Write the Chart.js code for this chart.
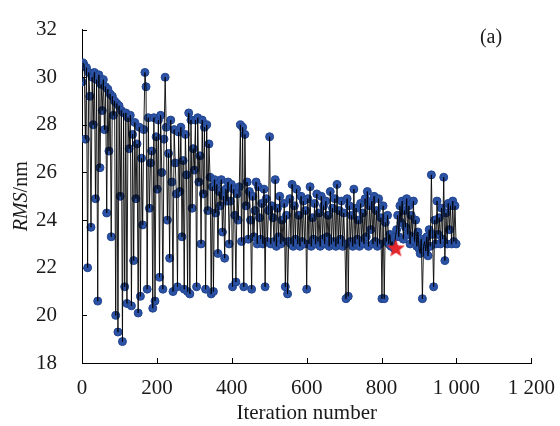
<!DOCTYPE html>
<html>
<head>
<meta charset="utf-8">
<script src="https://cdn.jsdelivr.net/npm/chart.js@4.4.1/dist/chart.umd.min.js"></script>
<style>
  html, body { margin: 0; padding: 0; background: #fff; }
  #wrap { width: 560px; height: 426px; }
</style>
</head>
<body>
<div id="wrap"><canvas id="rmsChart" width="560" height="426"></canvas></div>
<script>
// RMS, one value every 3 iterations (0, 3, 6 ... 999)
const iterStep = 3;
const rmsValues = [
    29.8, 30.6, 30.5, 27.4, 30.4, 22.0, 30.2, 29.2, 23.7, 30.0,
    28.0, 30.2, 24.9, 29.9, 20.6, 30.1, 26.2, 29.7, 28.6, 29.9,
    27.8, 29.6, 24.3, 29.5, 26.9, 29.3, 23.3, 29.2, 28.4, 29.0,
    20.0, 28.9, 19.3, 28.8, 25.0, 28.6, 18.9, 28.5, 21.2, 28.5,
    20.5, 28.3, 27.0, 28.4, 20.4, 27.6, 22.3, 28.1, 24.9, 27.2,
    20.1, 27.9, 20.8, 26.6, 23.8, 27.8, 30.2, 29.6, 21.1, 28.3,
    24.5, 26.4, 26.9, 20.3, 28.3, 20.6, 27.5, 25.3, 28.2, 21.6,
    28.4, 26.0, 21.1, 27.4, 30.0, 27.9, 24.0, 26.8, 22.4, 28.2,
    25.6, 21.0, 27.8, 26.4, 25.1, 21.2, 27.7, 25.2, 27.9, 23.3,
    26.5, 21.1, 27.6, 25.9, 21.0, 28.5, 20.9, 28.2, 24.5, 27.0,
    26.1, 28.2, 21.2, 28.3, 25.6, 26.7, 23.0, 28.2, 25.1, 27.9,
    21.1, 28.0, 24.4, 27.2, 25.8, 20.9, 25.4, 21.0, 25.7, 24.3,
    25.5, 22.6, 25.2, 24.6, 25.7, 23.5, 25.0, 22.4, 25.3, 24.8,
    25.6, 23.0, 24.8, 25.5, 21.2, 25.3, 24.2, 21.4, 25.1, 24.0,
    25.4, 28.0, 23.1, 27.9, 21.2, 27.6, 24.6, 25.6, 23.2, 25.2,
    24.0, 21.1, 25.0, 23.3, 24.4, 25.6, 23.0, 25.4, 24.1, 23.2,
    24.7, 23.0, 25.3, 21.2, 24.9, 23.1, 24.4, 27.5, 23.0, 24.6,
    24.1, 23.1, 25.7, 22.9, 24.5, 23.3, 25.0, 23.0, 24.0, 23.1,
    24.7, 21.2, 24.2, 20.9, 23.1, 24.9, 23.0, 25.5, 22.9, 24.6,
    23.2, 25.3, 23.0, 24.2, 22.9, 25.0, 23.1, 24.8, 23.0, 24.4,
    21.1, 24.9, 23.0, 25.4, 22.9, 24.1, 23.2, 24.7, 23.0, 25.1,
    23.1, 24.3, 22.9, 25.0, 23.2, 24.6, 23.0, 24.8, 23.3, 24.2,
    22.9, 25.2, 23.0, 24.5, 23.1, 24.9, 22.9, 25.5, 23.0, 24.4,
    23.2, 24.8, 22.9, 24.3, 23.0, 20.7, 24.9, 20.8, 24.6, 23.1,
    24.2, 22.9, 25.3, 23.0, 24.5, 23.2, 24.0, 22.9, 24.7, 23.1,
    24.3, 23.0, 24.9, 23.3, 25.2, 22.9, 24.6, 23.6, 24.8, 23.0,
    25.0, 23.1, 24.4, 22.9, 24.9, 23.0, 24.1, 20.7, 24.6, 20.7,
    23.9, 23.1, 24.2, 23.0, 23.4, 22.9, 23.1, 22.9, 22.8, 23.3,
    23.6, 24.2, 23.3, 24.6, 23.9, 24.8, 23.2, 24.4, 23.7, 24.9,
    23.4, 24.6, 23.0, 24.2, 23.3, 24.8, 23.1, 24.0, 22.9, 23.5,
    22.8, 22.6, 23.2, 20.7, 22.9, 23.1, 22.7, 23.3, 22.5, 23.6,
    22.9, 25.9, 23.4, 21.2, 24.0, 23.0, 24.8, 23.4, 24.1, 23.0,
    24.5, 23.2, 25.8, 22.3, 24.3, 23.0, 24.7, 23.6, 24.6, 23.0,
    24.8, 23.1, 24.6, 23.0
];
// best result, marked with the red star
const bestIter = [838];
const bestRms = [22.8];

const xTicks = [0, 200, 400, 600, 800, 1000, 1200];
const yTicks = [18, 20, 22, 24, 26, 28, 30, 32];

const serif = '"Liberation Serif", "Times New Roman", serif';
const textColor = '#1a1a1a';
const fontSize = 21;

const points = rmsValues.map((v, i) => ({ x: i * iterStep, y: v }));
const best = bestIter.map((x, i) => ({ x: x, y: bestRms[i] }));

function makeStar(size, color) {
    const c = document.createElement('canvas');
    c.width = size;
    c.height = size;
    const g = c.getContext('2d');
    const r = size / 2, ri = r * 0.42;
    g.beginPath();
    for (let i = 0; i < 10; i++) {
        const a = -Math.PI / 2 + i * Math.PI / 5;
        const rr = i % 2 ? ri : r;
        g.lineTo(r + rr * Math.cos(a), r + rr * Math.sin(a));
    }
    g.closePath();
    g.fillStyle = color;
    g.fill();
    return c;
}

function fmtThousands(v) {
    return String(v).replace(/\B(?=(\d{3})+(?!\d))/g, ' ');
}

// inward tick marks, y axis title with italic RMS, panel tag
const decorations = {
    id: 'decorations',
    beforeDatasetsDraw(chart) {
        const ctx = chart.ctx;
        const xs = chart.scales.x, ys = chart.scales.y;
        const area = chart.chartArea;
        ctx.save();
        ctx.strokeStyle = '#000';
        ctx.lineWidth = 1;
        ctx.beginPath();
        xTicks.forEach(t => {
            const px = Math.round(xs.getPixelForValue(t)) + 0.5;
            ctx.moveTo(px, area.bottom);
            ctx.lineTo(px, area.bottom - 5);
        });
        yTicks.forEach(t => {
            const py = Math.round(ys.getPixelForValue(t)) + 0.5;
            ctx.moveTo(area.left, py);
            ctx.lineTo(area.left + 5, py);
        });
        ctx.stroke();
        ctx.restore();
    },
    afterDraw(chart) {
        const ctx = chart.ctx;
        const area = chart.chartArea;
        ctx.save();
        ctx.fillStyle = textColor;
        ctx.textBaseline = 'middle';
        ctx.translate(22, (area.top + area.bottom) / 2);
        ctx.rotate(-Math.PI / 2);
        const italic = 'italic 20px ' + serif;
        const normal = '20px ' + serif;
        ctx.font = italic;
        const w1 = ctx.measureText('RMS').width;
        ctx.font = normal;
        const w2 = ctx.measureText('/nm').width;
        const x0 = -(w1 + w2) / 2;
        ctx.textAlign = 'left';
        ctx.font = italic;
        ctx.fillText('RMS', x0, 0);
        ctx.font = normal;
        ctx.fillText('/nm', x0 + w1, 0);
        ctx.restore();

        ctx.save();
        ctx.fillStyle = textColor;
        ctx.font = '20px ' + serif;
        ctx.textAlign = 'center';
        ctx.textBaseline = 'middle';
        ctx.fillText('(a)', 491, 38);
        ctx.restore();
    }
};

const chart = new Chart(document.getElementById('rmsChart').getContext('2d'), {
    type: 'scatter',
    data: {
        datasets: [
            {
                label: 'best',
                data: best,
                pointStyle: makeStar(19, '#e5262b'),
                pointRadius: 9,
                showLine: false
            },
            {
                label: 'path',
                data: points,
                showLine: true,
                borderColor: 'rgba(0,0,0,0.88)',
                borderWidth: 1,
                pointRadius: 0,
                fill: false
            },
            {
                label: 'RMS',
                data: points,
                showLine: false,
                backgroundColor: '#2b52a4',
                borderColor: '#23458f',
                borderWidth: 1,
                pointRadius: 4
            }
        ]
    },
    options: {
        responsive: false,
        animation: false,
        devicePixelRatio: 1,
        layout: { padding: { left: 0, top: 18, right: 25, bottom: 0 } },
        plugins: {
            legend: { display: false },
            tooltip: { enabled: false }
        },
        scales: {
            x: {
                type: 'linear',
                min: 0,
                max: 1200,
                afterFit: scale => { scale.height = 63; },
                afterBuildTicks: scale => { scale.ticks = xTicks.map(v => ({ value: v })); },
                grid: { display: false },
                border: { display: true, color: '#000', width: 1 },
                ticks: {
                    padding: 5,
                    color: textColor,
                    font: { family: serif, size: fontSize },
                    maxRotation: 0,
                    callback: v => fmtThousands(v)
                },
                title: {
                    display: true,
                    text: 'Iteration number',
                    color: textColor,
                    font: { family: serif, size: fontSize },
                    padding: { top: 6, bottom: 0 }
                }
            },
            y: {
                min: 18,
                max: 32,
                afterFit: scale => { scale.width = 82; },
                afterBuildTicks: scale => { scale.ticks = yTicks.map(v => ({ value: v })); },
                grid: { display: false },
                border: { display: true, color: '#000', width: 1 },
                ticks: {
                    padding: 17,
                    color: textColor,
                    font: { family: serif, size: fontSize }
                }
            }
        }
    },
    plugins: [decorations]
});
</script>
</body>
</html>
